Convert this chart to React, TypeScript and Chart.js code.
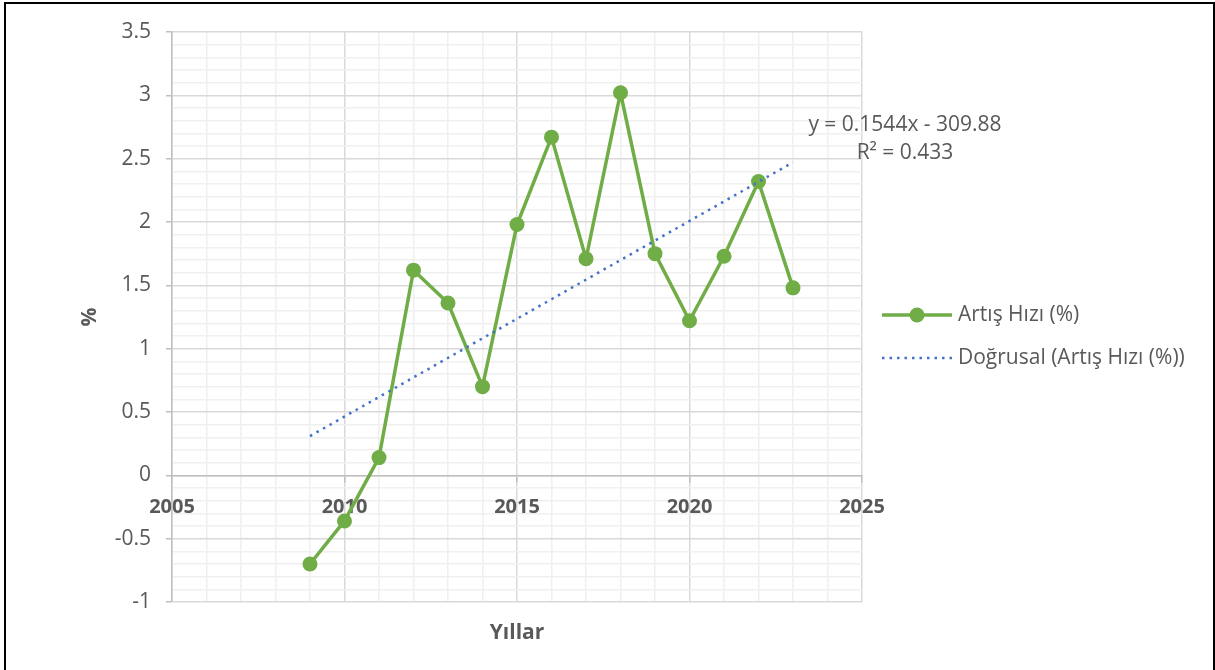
import React, { useEffect, useRef } from 'react';
import { Chart, registerables } from 'chart.js';

Chart.register(...registerables);

// ---- data ----
const YEARS = [2009, 2010, 2011, 2012, 2013, 2014, 2015, 2016, 2017, 2018, 2019, 2020, 2021, 2022, 2023];
const GROWTH = [-0.7, -0.36, 0.14, 1.62, 1.36, 0.7, 1.98, 2.67, 1.71, 3.02, 1.75, 1.22, 1.73, 2.32, 1.48];
const TREND_SLOPE = 0.1544;
const TREND_INTERCEPT = -309.88;
const TREND_EQUATION = 'y = 0.1544x - 309.88';
const TREND_R2_TEXT = 'R² = 0.433';
const SERIES_LABEL = 'Artış Hızı (%)';
const TREND_LABEL = 'Doğrusal (Artış Hızı (%))';
const X_TITLE = 'Yıllar';
const Y_TITLE = '%';
const X_RANGE = [2005, 2025];
const Y_RANGE = [-1, 3.5];

// ---- style ----
const GREEN = '#70ad47';
const BLUE = '#4472c4';
const TEXT = '#595959';
const MAJOR = '#d9d9d9';
const MINOR = '#f0f0f0';
const AXIS = '#bfbfbf';
const FONT = "'Open Sans', sans-serif";
const FS = 21;
const FS_BOLD = 20;

const isMult = (v: number, m: number) => Math.abs(v / m - Math.round(v / m)) < 1e-6;

const overlay = {
  id: 'overlay',
  afterDraw(chart: any) {
    const ctx = chart.ctx as CanvasRenderingContext2D;
    ctx.save();
    ctx.fillStyle = TEXT;
    ctx.font = `${FS}px ${FONT}`;
    ctx.textAlign = 'center';
    ctx.textBaseline = 'middle';
    ctx.fillText(TREND_EQUATION, 905, 125);
    ctx.fillText(TREND_R2_TEXT, 905, 153);

    // legend
    const lx0 = 882, lx1 = 952, tx = 958;
    const r1 = 315, r2 = 358;
    ctx.strokeStyle = GREEN;
    ctx.lineWidth = 3.5;
    ctx.setLineDash([]);
    ctx.beginPath();
    ctx.moveTo(lx0, r1);
    ctx.lineTo(lx1, r1);
    ctx.stroke();
    ctx.fillStyle = GREEN;
    ctx.beginPath();
    ctx.arc((lx0 + lx1) / 2, r1, 7.5, 0, Math.PI * 2);
    ctx.fill();

    ctx.strokeStyle = BLUE;
    ctx.lineWidth = 2.5;
    ctx.setLineDash([2.5, 5]);
    ctx.beginPath();
    ctx.moveTo(lx0, r2);
    ctx.lineTo(lx1, r2);
    ctx.stroke();
    ctx.setLineDash([]);

    ctx.fillStyle = TEXT;
    ctx.textAlign = 'left';
    ctx.fillText(SERIES_LABEL, tx, r1);
    ctx.fillText(TREND_LABEL, tx, r2);
    ctx.restore();
  },
};

export default function App() {
  const ref = useRef<HTMLCanvasElement>(null);

  useEffect(() => {
    if (!ref.current) return;
    const trendX = [Math.min(...YEARS), Math.max(...YEARS)];
    const chart = new Chart(ref.current, {
      type: 'line',
      data: {
        datasets: [
          {
            label: TREND_LABEL,
            data: trendX.map((x) => ({ x, y: TREND_SLOPE * x + TREND_INTERCEPT })),
            borderColor: BLUE,
            borderWidth: 2.5,
            borderDash: [2.5, 5],
            pointRadius: 0,
            fill: false,
            order: 0,
            xAxisID: 'x',
          },
          {
            label: SERIES_LABEL,
            data: YEARS.map((x, i) => ({ x, y: GROWTH[i] })),
            borderColor: GREEN,
            backgroundColor: GREEN,
            borderWidth: 3.5,
            pointRadius: 7.5,
            pointBackgroundColor: GREEN,
            pointBorderColor: GREEN,
            pointBorderWidth: 0,
            tension: 0,
            fill: false,
            order: 1,
            xAxisID: 'x',
          },
        ],
      },
      options: {
        responsive: false,
        animation: false,
        events: [],
        layout: { padding: { top: 32, right: 353, left: 0, bottom: 0 } },
        plugins: { legend: { display: false }, tooltip: { enabled: false } },
        scales: {
          x: {
            type: 'linear',
            position: { y: 0 } as any,
            min: X_RANGE[0],
            max: X_RANGE[1],
            border: { display: true, color: AXIS, width: 1.5 },
            grid: {
              color: (c: any) => (isMult(c.tick.value, 5) ? MAJOR : MINOR),
              lineWidth: 1.5,
              tickLength: 6,
              tickColor: (c: any) => (isMult(c.tick.value, 5) ? AXIS : 'rgba(0,0,0,0)'),
            },
            ticks: {
              stepSize: 1,
              maxTicksLimit: 1000,
              autoSkip: false,
              maxRotation: 0,
              padding: 14,
              color: TEXT,
              font: { family: FONT, size: FS_BOLD, weight: 'bold' },
              callback: (v: any) => (isMult(Number(v), 5) ? String(v) : ''),
            },
          },
          xb: {
            type: 'linear',
            position: 'bottom',
            min: X_RANGE[0],
            max: X_RANGE[1],
            grid: { display: false },
            border: { display: false },
            ticks: { display: false },
            title: {
              display: true,
              text: X_TITLE,
              color: TEXT,
              font: { family: FONT, size: FS, weight: 'bold' },
              padding: { top: 0, bottom: 24 },
            },
            afterFit: (s: any) => {
              s.height = 68;
            },
          },
          y: {
            type: 'linear',
            position: 'left',
            min: Y_RANGE[0],
            max: Y_RANGE[1],
            border: { display: true, color: AXIS, width: 1.5 },
            grid: {
              color: (c: any) => (isMult(c.tick.value, 0.5) ? MAJOR : MINOR),
              lineWidth: 1.5,
              tickLength: 6,
              tickColor: (c: any) => (isMult(c.tick.value, 0.5) ? AXIS : 'rgba(0,0,0,0)'),
            },
            ticks: {
              stepSize: 0.1,
              maxTicksLimit: 1000,
              autoSkip: false,
              padding: 15,
              color: TEXT,
              font: { family: FONT, size: FS },
              callback: (v: any) => {
                const n = Number(v);
                return isMult(n, 0.5) ? String(Math.round(n * 10) / 10) : '';
              },
            },
            title: {
              display: true,
              text: Y_TITLE,
              color: TEXT,
              font: { family: FONT, size: FS, weight: 'bold' },
              padding: { top: 77, bottom: 0 },
            },
            afterFit: (s: any) => {
              s.width = 172;
            },
          },
        },
      },
      plugins: [overlay],
    });
    return () => chart.destroy();
  }, []);

  return (
    <div style={{ position: 'absolute', left: 0, top: 0, width: 1215, height: 670, overflow: 'hidden', background: '#fff' }}>
      <canvas ref={ref} width={1215} height={670} style={{ position: 'absolute', left: 0, top: 0, width: 1215, height: 670 }} />
      <div
        style={{
          position: 'absolute',
          left: 4,
          top: 2,
          width: 1211,
          height: 720,
          border: '2px solid #000',
          boxSizing: 'border-box',
          pointerEvents: 'none',
        }}
      />
    </div>
  );
}
